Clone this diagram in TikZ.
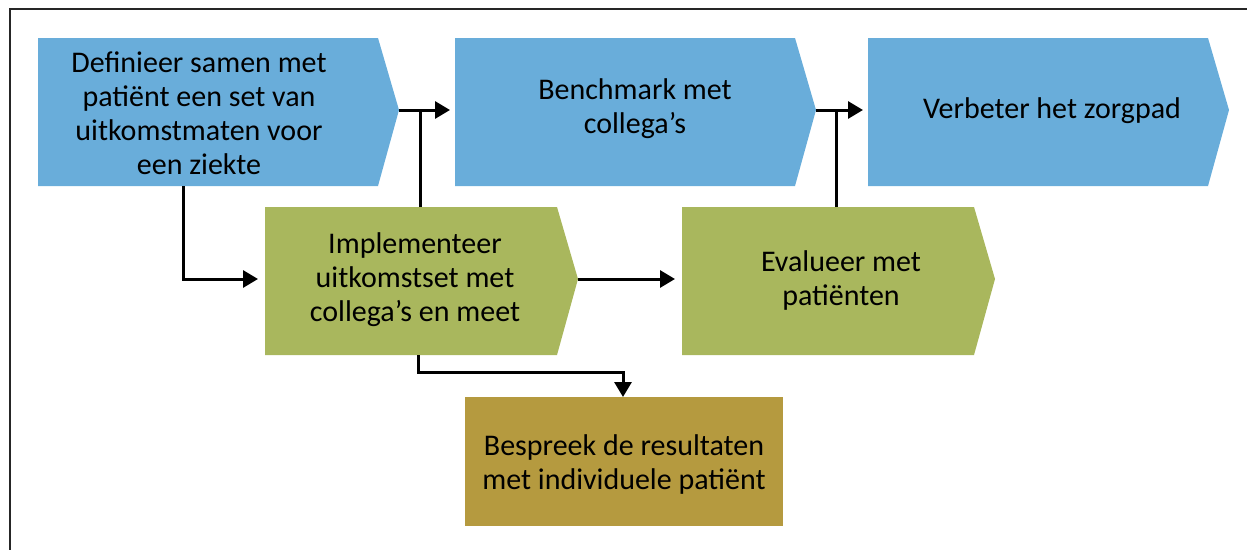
\documentclass[tikz,border=0pt]{standalone}
\usepackage{fontspec}
\setmainfont{Carlito}
\usetikzlibrary{arrows.meta}
\definecolor{cblue}{HTML}{69ADDA}
\definecolor{cgreen}{HTML}{A9B75D}
\definecolor{cbrown}{HTML}{B59A3F}
\tikzset{
  txt/.style={align=center, font=\fontsize{30}{34}\selectfont, inner sep=0pt},
  conn/.style={line width=3pt, -{Triangle[length=15pt,width=17pt]}},
  plain/.style={line width=3pt},
}
\begin{document}
\begin{tikzpicture}[x=1pt,y=-1pt]
\useasboundingbox (0,0) rectangle (1247,549);
\draw[line width=1.3pt, black!85] (10,560) -- (10,9) -- (1260,9);
% shapes
\fill[cblue] (38,38) -- (378,38) -- (399,110) -- (378,186) -- (38,186) -- cycle;
\fill[cblue] (455,38) -- (795,38) -- (816,110) -- (795,186) -- (455,186) -- cycle;
\fill[cblue] (868,38) -- (1208,38) -- (1229,110) -- (1208,186) -- (868,186) -- cycle;
\fill[cgreen] (265,207) -- (557,207) -- (578,279) -- (557,355) -- (265,355) -- cycle;
\fill[cgreen] (682,207) -- (974,207) -- (995,279) -- (974,355) -- (682,355) -- cycle;
\fill[cbrown] (465,397) rectangle (783,526);
% anchor coordinates
\coordinate (t1) at (399,110);
\coordinate (l2) at (455,110);
\coordinate (t2) at (816,110);
\coordinate (l3) at (868,110);
\coordinate (b1) at (183,186);
\coordinate (l4) at (265,279);
\coordinate (t4) at (578,279);
\coordinate (l5) at (682,279);
\coordinate (top4) at (420,207);
\coordinate (bot4) at (418,355);
\coordinate (top5) at (836,207);
\coordinate (top6) at (623,397);
% texts
\node[txt] (n1) at (199,113) {Definieer samen met\\patiënt een set van\\uitkomstmaten voor\\een ziekte};
\node[txt] (n2) at (635,109) {Benchmark met\\collega’s};
\node[txt] (n3) at (1052,111) {Verbeter het zorgpad};
\node[txt] (n4) at (415,280) {Implementeer\\uitkomstset met\\collega’s en meet};
\node[txt] (n5) at (841,280) {Evalueer met\\patiënten};
\node[txt] (n6) at (624,464) {Bespreek de resultaten\\met individuele patiënt};
% connectors
\draw[conn, shorten >=5pt] (t1) -- (l2);
\draw[plain] (top4) -- (top4 |- t1);
\draw[conn, shorten >=5pt] (t2) -- (l3);
\draw[plain] (top5) -- (top5 |- t2);
\draw[conn, shorten >=7pt] (b1) |- (l4);
\draw[conn, shorten >=7pt] (t4) -- (l5);
\draw[conn, shorten >=0pt] (bot4) -- ++(0,17) -| (top6);
\end{tikzpicture}
\end{document}
